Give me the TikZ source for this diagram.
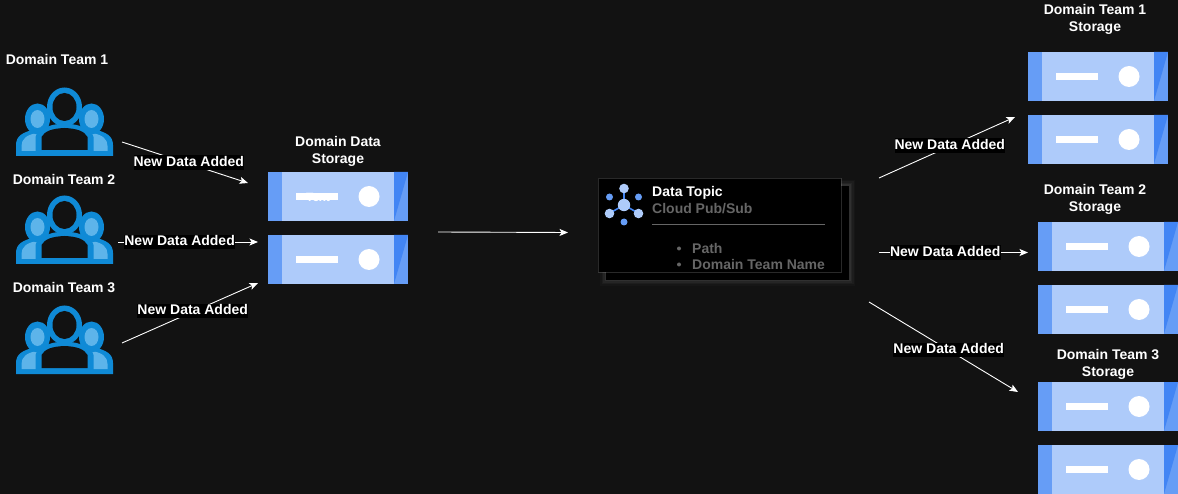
\documentclass[tikz,border=0pt]{standalone}
\usepackage{fontspec}
\setmainfont{Liberation Sans}
\definecolor{bgc}{HTML}{121212}
\definecolor{srvA}{HTML}{AECBFA}
\definecolor{srvB}{HTML}{669DF6}
\definecolor{srvC}{HTML}{4285F4}
\definecolor{teamA}{HTML}{0F8AD6}
\definecolor{teamB}{HTML}{5DB4EA}
\definecolor{grayT}{HTML}{666666}
\tikzset{
  lbl/.style={font=\bfseries\fontsize{14}{17}\selectfont,text=white,align=center,inner sep=0pt},
  edgelbl/.style={font=\bfseries\fontsize{14}{16}\selectfont,text=white,fill=black,inner sep=0pt,text height=11pt,text depth=3.5pt},
  conn/.style={draw=white,line width=0.9pt,-{Stealth[length=8.5pt,width=7pt,inset=2pt]}},
}
\usetikzlibrary{arrows.meta}
\newcommand{\srvbox}[3]{%
 \begin{scope}[shift={(#2,#3)}]
  \node[anchor=north west,minimum width=140pt,minimum height=49pt,inner sep=0pt,fill=srvA] (#1) at (0,0) {};
  \fill[srvB] (0,0) rectangle (14,49);
  \fill[srvB] (126,0) rectangle (140,49);
  \fill[srvC] (126,0) -- (140,0) -- (126,49) -- cycle;
  \fill[white] (28,21) rectangle (70,28);
  \fill[white] (101,24.5) circle[radius=10.5];
 \end{scope}}
\newcommand{\teamicon}[3]{%
 \begin{scope}[shift={(#2,#3)}]
  \coordinate (#1) at (0,0);
  \fill[teamA] (-48.5,68) -- (-48.5,57) .. controls (-48.5,48) and (-42,44) .. (-28,41) -- (28,41) .. controls (42,44) and (48.5,48) .. (48.5,57) -- (48.5,68) -- cycle;
  \fill[teamB] (-43,63) -- (-43,58) .. controls (-43,51) and (-38,47) .. (-28,45) -- (-23,45) -- (-28,52) -- (-28,63) -- cycle;
  \fill[teamB] (43,63) -- (43,58) .. controls (43,51) and (38,47) .. (28,45) -- (23,45) -- (28,52) -- (28,63) -- cycle;
  \fill[teamA] (-27,31) ellipse[x radius=12.5,y radius=15.5];
  \fill[teamA] (27,31) ellipse[x radius=12.5,y radius=15.5];
  \fill[teamB] (-27,31) ellipse[x radius=7,y radius=9];
  \fill[teamB] (27,31) ellipse[x radius=7,y radius=9];
  \fill[teamA] (-29,64) -- (-29,49) .. controls (-27,41) and (-15,36) .. (0,35.5) .. controls (15,36) and (27,41) .. (29,49) -- (29,64) -- cycle;
  \fill[bgc] (-23,62) -- (-23,49) .. controls (-20,43) and (-12,40.5) .. (0,40) .. controls (12,40.5) and (20,43) .. (23,49) -- (23,62) -- cycle;
  \fill[teamA] (0,19) ellipse[x radius=17.5,y radius=19.5];
  \fill[bgc] (0,19) ellipse[x radius=12,y radius=14];
 \end{scope}}
\begin{document}
\begin{tikzpicture}[x=1pt,y=-1pt]
\useasboundingbox (0,0) rectangle (1178,494);
\clip (0,0) rectangle (1178,494);
\fill[bgc] (0,0) rectangle (1178,494);

\node[lbl] (t1) at (57,59.5) {Domain Team 1};
\node[lbl] (t2) at (64,179.5) {Domain Team 2};
\node[lbl] (t3) at (64,287.5) {Domain Team 3};
\teamicon{ic1}{64.5}{88}
\teamicon{ic2}{64.5}{196}
\teamicon{ic3}{64.5}{306}

\node[lbl] (dds) at (338,151) {Domain Data\\Storage};
\srvbox{s0a}{268}{172}
\srvbox{s0b}{268}{235}
\node[font=\bfseries\fontsize{12}{13}\selectfont,text=white,inner sep=0pt] (s0t) at (318,197) {Text};

% card
\foreach \g/\o in {6/0.02,4.5/0.03,3/0.04,1.5/0.05}{
  \fill[white,opacity=\o] (606-\g,186-\g) rectangle (849+\g,280+\g);
}
\fill[black] (606,186) rectangle (849,280);
\node[anchor=north west,minimum width=243pt,minimum height=94pt,inner sep=0pt,fill=black] (card) at (598,178) {};
\draw[white,opacity=0.16,line width=0.7pt] (598,178) rectangle (841,272);
\draw[srvC,line width=1.6pt] (624,205)--(624,192) (624,205)--(610,213) (624,205)--(638,213);
\fill[srvA] (624,205) circle[radius=6.2];
\fill[srvA] (624,188.5) circle[radius=4.8];
\fill[srvA] (609.5,213.5) circle[radius=4.8];
\fill[srvA] (638.5,213.5) circle[radius=4.8];
\fill[srvB] (609.5,197) circle[radius=3.5];
\fill[srvB] (638.5,197) circle[radius=3.5];
\fill[srvB] (624,222) circle[radius=3.5];
\node[anchor=west,font=\bfseries\fontsize{14}{16}\selectfont,text=white,inner sep=0pt] (ctitle) at (652,192.5) {Data Topic};
\node[anchor=west,font=\bfseries\fontsize{14}{16}\selectfont,text=grayT,inner sep=0pt] (csub) at (652,208.5) {Cloud Pub/Sub};
\draw[grayT,line width=0.7pt] (652,224.5) -- (825,224.5);
\fill[grayT] (679,248.5) circle[radius=2];
\fill[grayT] (679,264.5) circle[radius=2];
\node[anchor=west,font=\bfseries\fontsize{14}{16}\selectfont,text=grayT,inner sep=0pt] (cp1) at (692,248) {Path};
\node[anchor=west,font=\bfseries\fontsize{14}{16}\selectfont,text=grayT,inner sep=0pt] (cp2) at (692,264) {Domain Team Name};

% right
\node[lbl] (r1) at (1095,19) {Domain Team 1\\Storage};
\srvbox{r1a}{1028}{52}
\srvbox{r1b}{1028}{115}
\node[lbl] (r2) at (1095,199) {Domain Team 2\\Storage};
\srvbox{r2a}{1038}{222}
\srvbox{r2b}{1038}{285}
\node[lbl] (r3) at (1108,364) {Domain Team 3\\Storage};
\srvbox{r3a}{1038}{382}
\srvbox{r3b}{1038}{445}

% free ends
\foreach \n/\x/\y in {a1/122/142,b1/248/183,a2/118/242,b2/258/242,a3/122/343,b3/258/283,c1/438/232,d1/568/232.5,e1/879/178,f1/1015/117,e2/879/252.5,f2/1028/252.5,e3/869/302,f3/1018/392}{
  \coordinate (\n) at (\x,\y);
}
\path[conn] (a1) -- node[edgelbl,pos=0.53,yshift=1pt] (l1) {New Data Added} (b1);
\path[conn] (a2) -- node[edgelbl,pos=0.44] (l2) {New Data Added} (b2);
\path[conn] (a3) -- node[edgelbl,pos=0.52,yshift=1pt] (l3) {New Data Added} (b3);
\path[conn] (c1) -- (d1);
\path[conn] (e1) -- node[edgelbl,pos=0.52,yshift=1pt] (l4) {New Data Added} (f1);
\path[conn] (e2) -- node[edgelbl,pos=0.445] (l5) {New Data Added} (f2);
\path[conn] (e3) -- node[edgelbl,pos=0.535] (l6) {New Data Added} (f3);
\end{tikzpicture}
\end{document}
